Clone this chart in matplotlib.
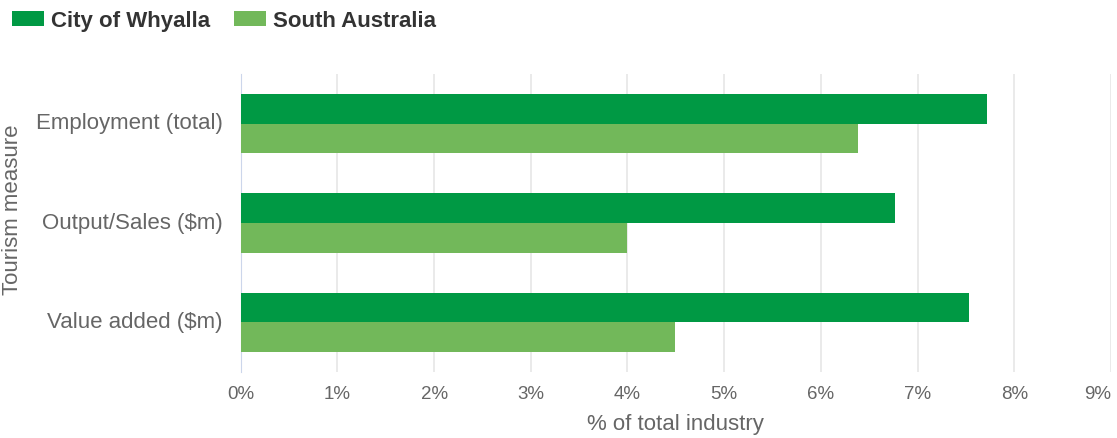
import matplotlib.pyplot as plt
import numpy as np

plt.rcParams['font.family'] = ['Liberation Sans', 'DejaVu Sans']

# Daten
measures = ["Employment (total)", "Output/Sales ($m)", "Value added ($m)"]
whyalla = [7.72, 6.77, 7.53]
south_aus = [6.38, 3.99, 4.49]
series_names = ["City of Whyalla", "South Australia"]
colors = ["#009944", "#72b85a"]

fig = plt.figure(figsize=(11.17, 4.38), dpi=100)
ax = fig.add_axes([0.2155, 0.1507, 0.9946 - 0.2155, 0.831 - 0.1507])

y = np.arange(len(measures))
h = 0.3
ax.barh(y - h / 2, whyalla, height=h, color=colors[0], label=series_names[0], zorder=3)
ax.barh(y + h / 2, south_aus, height=h, color=colors[1], label=series_names[1], zorder=3)

ax.set_ylim(len(measures) - 0.5, -0.5)
ax.set_xlim(0, 9)
ax.set_xticks(range(10))
ax.set_xticklabels([f"{i}%" for i in range(10)])
ax.get_xticklabels()[-1].set_horizontalalignment('right')
ax.set_yticks(y)
ax.set_yticklabels(measures, va='center')

ax.grid(axis='x', color='#e6e6e6', linewidth=1.2, zorder=0)
for s in ['top', 'right', 'bottom']:
    ax.spines[s].set_visible(False)
ax.spines['left'].set_color('#ccd6eb')
ax.tick_params(axis='both', length=0, colors='#666666')
ax.tick_params(axis='x', labelsize=13.5, pad=10)
ax.tick_params(axis='y', labelsize=16, pad=13)

ax.set_xlabel("% of total industry", fontsize=16, color='#666666', labelpad=8)
fig.text(0.002, 0.52, "Tourism measure", rotation=90, fontsize=16,
         color='#666666', ha='left', va='center')

fig.legend(loc='upper left', bbox_to_anchor=(0.0107, 0.976), ncol=2, frameon=False,
           borderaxespad=0, borderpad=0,
           prop={'weight': 'bold', 'size': 16}, handlelength=1.44, handleheight=0.68,
           handletextpad=0.3, columnspacing=1.1, labelcolor='#333333')

fig.savefig("out.png", dpi=100)
